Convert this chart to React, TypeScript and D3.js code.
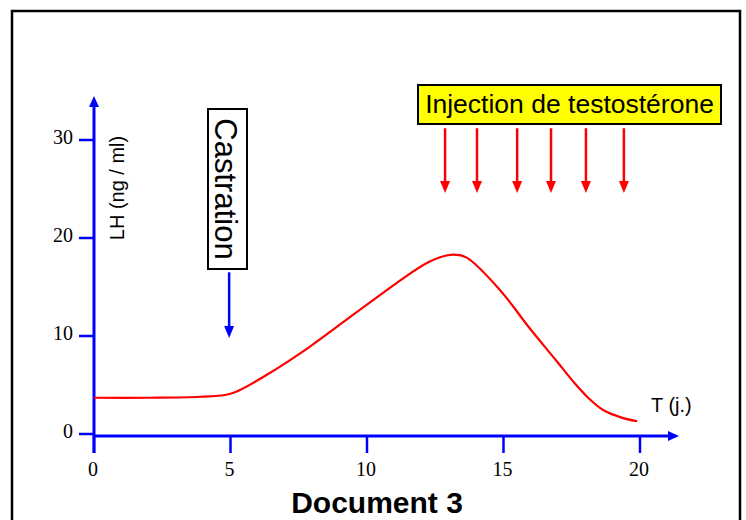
import React from "react";
import * as d3 from "d3";

// LH curve (days, ng/ml)
const days = [0, 2, 3.9, 5, 6.3, 7.9, 10, 12.3, 13.15, 13.65, 14.9, 15.9, 16.9, 17.6, 18.1, 18.65, 19.3, 19.9];
const lh = [3.7, 3.7, 3.8, 4.1, 6.0, 8.9, 13.2, 17.6, 18.3, 18.0, 14.6, 11.0, 7.6, 5.2, 3.7, 2.45, 1.7, 1.3];

const xTicks = [0, 5, 10, 15, 20];
const yTicks = [0, 10, 20, 30];

// testosterone injections (days)
const injections = [12.86, 14.03, 15.5, 16.74, 18.02, 19.41];
const castrationDay = 4.95;

const W = 746;
const H = 520;

const x = d3.scaleLinear().domain([0, 20]).range([94, 640]);
const y = d3.scaleLinear().domain([0, 30]).range([434, 140]);

const BLUE = "#0000ff";
const RED = "#ff0000";
const AXIS_Y = 436;

const Arrow = ({ x0, y0, y1, color }: { x0: number; y0: number; y1: number; color: string }) => (
  <g>
    <line x1={x0} x2={x0} y1={y0} y2={y1 - 10} stroke={color} strokeWidth={2.5} />
    <path d={`M${x0 - 5},${y1 - 12}L${x0 + 5},${y1 - 12}L${x0},${y1}Z`} fill={color} />
  </g>
);

export default function App() {
  const pts = days.map((d, i) => [d, lh[i]] as [number, number]);
  const line = d3
    .line<[number, number]>()
    .x((d) => x(d[0]))
    .y((d) => y(d[1]))
    .curve(d3.curveCatmullRom.alpha(0.5));

  const arial = "Arial, 'Liberation Sans', sans-serif";
  const times = "'Times New Roman', 'Liberation Serif', serif";

  return (
    <svg width={W} height={H} style={{ position: "absolute", left: 0, top: 0, background: "#fff" }}>
      <rect x={12} y={11} width={728} height={540} fill="#fff" stroke="#000" strokeWidth={2.5} />

      {/* y axis */}
      <line x1={94} x2={94} y1={105} y2={453} stroke={BLUE} strokeWidth={3} />
      <path d="M89,107L99,107L94,96Z" fill={BLUE} />
      {yTicks.map((t) => (
        <g key={"y" + t}>
          <line x1={79} x2={94} y1={y(t)} y2={y(t)} stroke={BLUE} strokeWidth={2.5} />
          <text x={73} y={y(t) + 4} textAnchor="end" fontFamily={times} fontSize={20}>
            {t}
          </text>
        </g>
      ))}

      {/* x axis */}
      <line x1={93} x2={670} y1={AXIS_Y} y2={AXIS_Y} stroke={BLUE} strokeWidth={3} />
      <path d={`M668,${AXIS_Y - 5}L668,${AXIS_Y + 5}L679,${AXIS_Y}Z`} fill={BLUE} />
      {xTicks.map((t) => (
        <g key={"x" + t}>
          <line x1={x(t)} x2={x(t)} y1={AXIS_Y} y2={453} stroke={BLUE} strokeWidth={2.5} />
          <text x={x(t) - 1} y={476} textAnchor="middle" fontFamily={times} fontSize={20}>
            {t}
          </text>
        </g>
      ))}

      {/* axis labels */}
      <text
        transform="translate(124,188) rotate(-90)"
        textAnchor="middle"
        fontFamily={arial}
        fontSize={20}
      >
        LH (ng / ml)
      </text>
      <text x={651} y={412} fontFamily={arial} fontSize={20}>
        T (j.)
      </text>

      {/* curve */}
      <path d={line(pts) ?? ""} fill="none" stroke={RED} strokeWidth={2.2} />

      {/* castration */}
      <rect x={208} y={109} width={39} height={160} fill="#fff" stroke="#000" strokeWidth={2} />
      <text
        transform="translate(215,189) rotate(90)"
        textAnchor="middle"
        fontFamily={arial}
        fontSize={31}
      >
        Castration
      </text>
      <Arrow x0={x(castrationDay)} y0={y(16.5)} y1={y(9.8)} color={BLUE} />

      {/* injections */}
      <rect x={418} y={85} width={303} height={39} fill="#ffff00" stroke="#000" strokeWidth={2} />
      <text x={569.5} y={113} textAnchor="middle" fontFamily={arial} fontSize={26.5}>
        Injection de testostérone
      </text>
      {injections.map((d) => (
        <Arrow key={d} x0={x(d)} y0={y(31.2)} y1={y(24.6)} color={RED} />
      ))}

      <text x={377} y={513} textAnchor="middle" fontFamily={arial} fontWeight="bold" fontSize={30}>
        Document 3
      </text>
    </svg>
  );
}
